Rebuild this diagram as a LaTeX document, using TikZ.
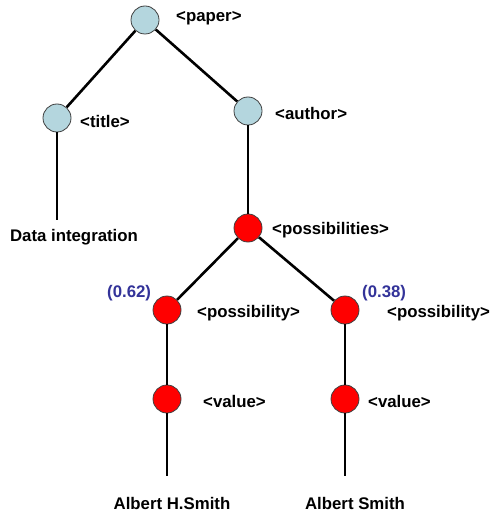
\documentclass[tikz,border=0pt]{standalone}
\usepackage{fontspec}
\setmainfont{Liberation Sans}
\definecolor{tagblue}{RGB}{180,214,222}
\definecolor{probblue}{RGB}{51,51,153}
\definecolor{possred}{RGB}{255,0,0}

\begin{document}
\begin{tikzpicture}[x=1pt,y=-1pt]
        \useasboundingbox (0,0) rectangle (490,513);

        \begin{scope}[every node/.style={circle,draw=black!75,line width=.8pt,minimum size=28pt,inner sep=0pt}]
          \node[fill=tagblue] (p)  at (145,20)  {};
          \node[fill=tagblue] (t)  at (57,118)  {};
          \node[fill=tagblue] (a)  at (248,111) {};
          \node[fill=possred] (ps) at (248,228) {};
          \node[fill=possred] (l)  at (167,310) {};
          \node[fill=possred] (r)  at (345,310) {};
          \node[fill=possred] (lv) at (167,399) {};
          \node[fill=possred] (rv) at (345,399) {};
        \end{scope}

        \begin{scope}[every node/.style={font=\fontsize{16.8}{20}\selectfont\bfseries, inner sep=0pt}]
          \node[anchor=west] (pl)  at (176,18)  {<paper>};
          \node[anchor=west] (tl)  at (80,121)  {<title>};
          \node[anchor=west] (al)  at (275,113) {<author>};
          \node[anchor=west] (psl) at (272,230) {<possibilities>};
          \node[anchor=west] (ll)  at (197,313) {<possibility>};
          \node[anchor=west] (rl)  at (387,313) {<possibility>};
          \node[anchor=west] (lvl) at (203,401) {<value>};
          \node[anchor=west] (rvl) at (368,401) {<value>};
          \node[anchor=west,text=probblue] (lp) at (107,293) {(0.62)};
          \node[anchor=west,text=probblue] (rp) at (362,293) {(0.38)};
          \node[anchor=base] (d)  at (74,241)  {Data integration};
          \node[anchor=base] (la) at (172,509) {Albert H.Smith};
          \node[anchor=base] (ra) at (355,509) {Albert Smith};
        \end{scope}

        \begin{scope}[every edge/.style={draw,line width=2.6pt}]
          \path (p)  edge (t);
          \path (p)  edge (a);
          \path (a)  edge (ps);
          \path (ps) edge (l);
          \path (ps) edge (r);
          \path (l)  edge (lv);
          \path (r)  edge (rv);
          \path (t)  edge[shorten >=9pt] (t |- d.north);
          \path (lv) edge[shorten >=21pt] (lv |- la.north);
          \path (rv) edge[shorten >=21pt] (rv |- ra.north);
        \end{scope}

      \end{tikzpicture}
\end{document}
